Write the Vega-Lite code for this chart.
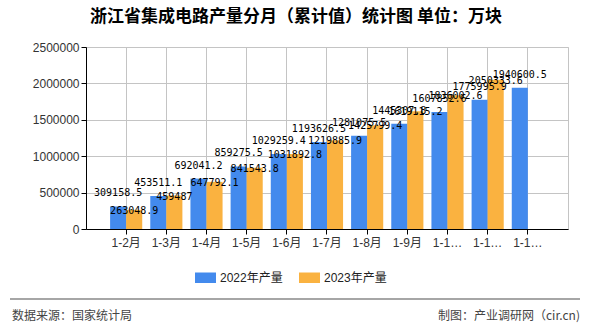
{
  "$schema": "https://vega.github.io/schema/vega-lite/v6.json",
  "width": 482,
  "height": 182,
  "autosize": "none",
  "padding": {"left": 86, "top": 47, "right": 22, "bottom": 101},
  "background": "white",
  "title": {
    "text": "浙江省集成电路产量分月（累计值）统计图 单位：万块",
    "anchor": "middle",
    "dx": -31,
    "offset": 15,
    "fontSize": 17,
    "fontWeight": "bold",
    "font": "Noto Sans CJK SC",
    "color": "#000"
  },
  "config": {
    "view": {"stroke": "#c4c4c4", "strokeWidth": 1},
    "axis": {"gridColor": "#c4c4c4", "gridOpacity": 1, "gridWidth": 1, "domainColor": "#000", "tickColor": "#000", "tickSize": 5, "labelColor": "#333", "labelFontSize": 12},
    "axisX": {"grid": true, "bandPosition": 0.5},
    "axisY": {"grid": true}
  },
  "datasets": {
    "main": [
      {"month": "1-2月", "series": "2022年产量", "value": 309158.5},
      {"month": "1-3月", "series": "2022年产量", "value": 453511.1},
      {"month": "1-4月", "series": "2022年产量", "value": 692041.2},
      {"month": "1-5月", "series": "2022年产量", "value": 859275.5},
      {"month": "1-6月", "series": "2022年产量", "value": 1029259.4},
      {"month": "1-7月", "series": "2022年产量", "value": 1193626.5},
      {"month": "1-8月", "series": "2022年产量", "value": 1281075.5},
      {"month": "1-9月", "series": "2022年产量", "value": 1445307.8},
      {"month": "1-10月", "series": "2022年产量", "value": 1607852.6},
      {"month": "1-11月", "series": "2022年产量", "value": 1775995.9},
      {"month": "1-12月", "series": "2022年产量", "value": 1940600.5},
      {"month": "1-2月", "series": "2023年产量", "value": 263048.9},
      {"month": "1-3月", "series": "2023年产量", "value": 459487},
      {"month": "1-4月", "series": "2023年产量", "value": 647792.1},
      {"month": "1-5月", "series": "2023年产量", "value": 841543.8},
      {"month": "1-6月", "series": "2023年产量", "value": 1031892.8},
      {"month": "1-7月", "series": "2023年产量", "value": 1219885.9},
      {"month": "1-8月", "series": "2023年产量", "value": 1425799.4},
      {"month": "1-9月", "series": "2023年产量", "value": 1619115.2},
      {"month": "1-10月", "series": "2023年产量", "value": 1836002.6},
      {"month": "1-11月", "series": "2023年产量", "value": 2050333.6}
    ],
    "footer": [{"left": "数据来源：国家统计局", "right": "制图：产业调研网（cir.cn)"}]
  },
  "layer": [
    {
      "data": {"name": "main"},
      "encoding": {
        "x": {
          "field": "month",
          "type": "nominal",
          "sort": ["1-2月","1-3月","1-4月","1-5月","1-6月","1-7月","1-8月","1-9月","1-10月","1-11月","1-12月"],
          "scale": {"paddingInner": 0.2, "paddingOuter": 0.6},
          "axis": {
            "title": null,
            "labelAngle": 0,
            "labelFont": "Liberation Sans, Noto Sans CJK SC",
            "labelLimit": 32,
            "labelPadding": 3,
            "grid": true,
            "bandPosition": 0.5
          }
        },
        "xOffset": {
          "field": "series",
          "type": "nominal",
          "scale": {"domain": ["2022年产量", "2023年产量"], "paddingInner": 0, "paddingOuter": 0}
        },
        "y": {
          "field": "value",
          "type": "quantitative",
          "scale": {"domain": [0, 2500000], "nice": false},
          "axis": {
            "title": null,
            "format": "d",
            "values": [0, 500000, 1000000, 1500000, 2000000, 2500000],
            "labelOverlap": false,
            "labelFlush": false,
            "labelFont": "Liberation Sans",
            "labelPadding": 2,
            "grid": true
          }
        }
      },
      "layer": [
        {
          "mark": {"type": "bar"},
          "encoding": {
            "color": {
              "field": "series",
              "type": "nominal",
              "scale": {"domain": ["2022年产量", "2023年产量"], "range": ["#438AED", "#FAB240"]},
              "legend": {
                "title": null,
                "orient": "none",
                "direction": "horizontal",
                "legendX": 109,
                "legendY": 220,
                "symbolType": "M-1,-0.5H1V0.5H-1Z",
                "symbolSize": 441,
                "symbolStrokeWidth": 0,
                "labelFontSize": 12,
                "labelFont": "Liberation Sans, Noto Sans CJK SC",
                "labelColor": "#222",
                "labelOffset": 4,
                "columnPadding": 16
              }
            }
          }
        },
        {
          "transform": [{"filter": "datum.series == '2022年产量'"}],
          "mark": {"type": "text", "baseline": "middle", "dy": -13, "font": "DejaVu Sans Mono", "fontSize": 10, "color": "#000"},
          "encoding": {"text": {"field": "value", "type": "quantitative", "format": ".1~f"}}
        },
        {
          "transform": [{"filter": "datum.series == '2023年产量'"}],
          "mark": {"type": "text", "baseline": "middle", "dy": 1, "font": "DejaVu Sans Mono", "fontSize": 10, "color": "#000"},
          "encoding": {"text": {"field": "value", "type": "quantitative", "format": ".1~f"}}
        }
      ]
    },
    {
      "data": {"name": "footer"},
      "mark": {"type": "rule", "color": "#888", "strokeWidth": 1.5, "clip": false},
      "encoding": {"x": {"value": -76}, "x2": {"value": 494}, "y": {"value": 252}}
    },
    {
      "data": {"name": "footer"},
      "mark": {"type": "text", "align": "left", "baseline": "middle", "font": "Noto Sans CJK SC", "fontSize": 12, "color": "#444", "clip": false},
      "encoding": {"x": {"value": -74}, "y": {"value": 269}, "text": {"field": "left"}}
    },
    {
      "data": {"name": "footer"},
      "mark": {"type": "text", "align": "right", "baseline": "middle", "font": "Noto Sans CJK SC", "fontSize": 12, "color": "#444", "clip": false},
      "encoding": {"x": {"value": 494}, "y": {"value": 269}, "text": {"field": "right"}}
    }
  ]
}
